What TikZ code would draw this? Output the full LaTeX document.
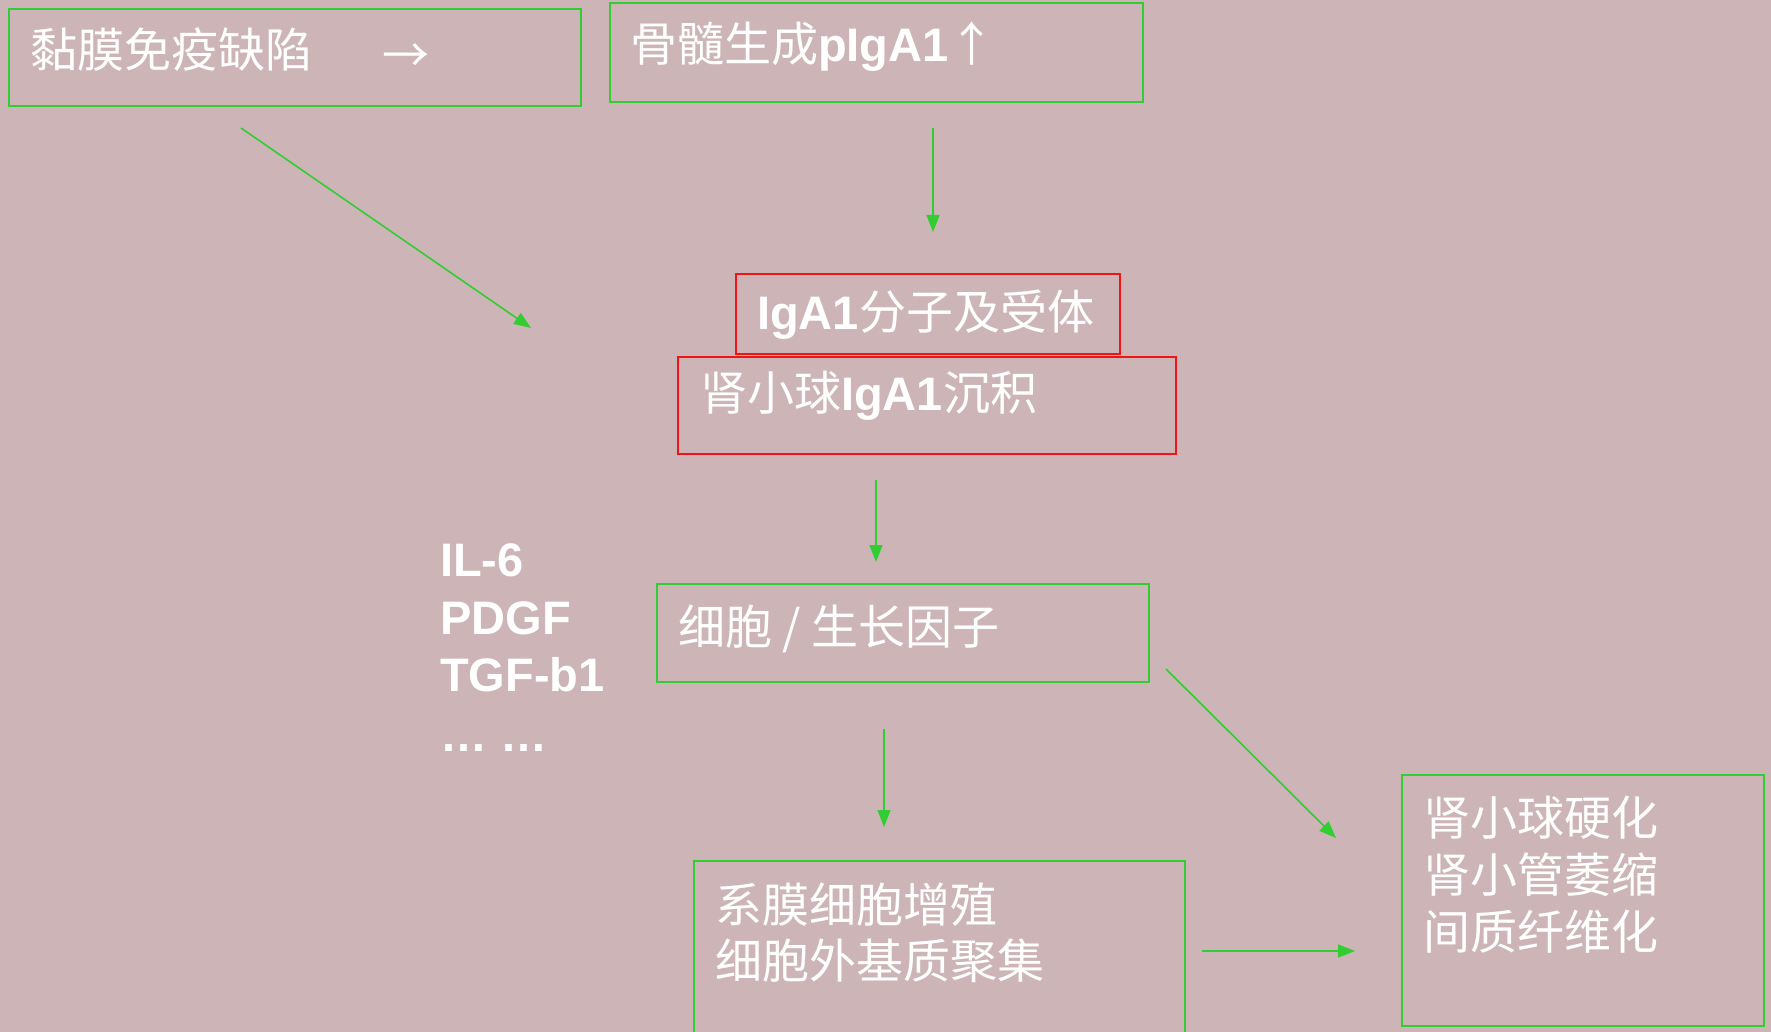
\documentclass[tikz,border=0pt]{standalone}
\usepackage{fontspec}
\setmainfont{Liberation Sans}
\newfontfamily\cjk{Noto Sans CJK SC}
\usetikzlibrary{arrows.meta}
\definecolor{bgpink}{RGB}{205,181,183}
\definecolor{boxgreen}{RGB}{50,205,50}
\definecolor{boxred}{RGB}{240,20,20}
\newcommand\lat[1]{{\rmfamily\bfseries #1}}
\tikzset{
  gbox/.style={draw=boxgreen, line width=2.2pt, rectangle, inner sep=0pt},
  rbox/.style={draw=boxred, line width=2.2pt, rectangle, inner sep=0pt},
  txt/.style={anchor=west, inner sep=0pt, text=white, align=left,
    font=\cjk\fontsize{47}{57}\selectfont},
  ftxt/.style={anchor=west, inner sep=0pt, text=white,
    font=\rmfamily\bfseries\fontsize{47}{57}\selectfont},
  arr/.style={draw=boxgreen, line width=1.6pt, -{Triangle[length=17pt,width=13pt]}}
}
\begin{document}
\begin{tikzpicture}[x=1pt,y=-1pt]
\useasboundingbox (0,0) rectangle (1771,1032);
\clip (0,0) rectangle (1771,1032);
\fill[bgpink] (0,0) rectangle (1771,1032);

% boxes
\node[gbox, minimum width=572pt, minimum height=97pt] (b1) at (295,57.5) {};
\node[gbox, minimum width=533pt, minimum height=99pt] (b2) at (876.5,52.5) {};
\node[rbox, minimum width=384pt, minimum height=80pt] (b3) at (928,314) {};
\node[rbox, minimum width=498pt, minimum height=97pt] (b4) at (927,405.5) {};
\node[gbox, minimum width=492pt, minimum height=98pt] (b5) at (903,633) {};
\node[gbox, minimum width=491pt, minimum height=199pt] (b6) at (939.5,960.5) {};
\node[gbox, minimum width=362pt, minimum height=251pt] (b7) at (1583,900.5) {};

% texts
\node[txt] (t1) at (30,50) {黏膜免疫缺陷\hspace{70pt}\raisebox{-5pt}{→}};
\node[txt] (t2) at (630,47) {骨髓生成\lat{pIgA1}↑};
\node[txt] (t3) at (757,315) {\lat{IgA1}分子及受体};
\node[txt] (t4) at (700,396) {肾小球\lat{IgA1}沉积};
\node[txt] (t5) at (678,629) {细胞 / 生长因子};
\node[txt, font=\cjk\fontsize{47}{56}\selectfont] (t6) at (715,933) {系膜细胞增殖\\细胞外基质聚集};
\node[txt] (t7) at (1423,875) {肾小球硬化\\肾小管萎缩\\间质纤维化};

\node[ftxt] (f1) at (440,560) {IL-6};
\node[ftxt] (f2) at (440,618) {PDGF};
\node[ftxt] (f3) at (440,675) {TGF-b1};
\node[ftxt] (f4) at (440,748) {… …};

% arrow ends
\coordinate (a1s) at (241,128);  \coordinate (a1e) at (531,328);
\coordinate (a2s) at (933,128);  \coordinate (a2e) at (933,232);
\coordinate (a3s) at (876,480);  \coordinate (a3e) at (876,562);
\coordinate (a4s) at (884,729);  \coordinate (a4e) at (884,827);
\coordinate (a5s) at (1166,669); \coordinate (a5e) at (1336,838);
\coordinate (a6s) at (1202,951); \coordinate (a6e) at (1355,951);

\draw[arr] (a1s) -- (a1e);
\draw[arr] (a2s) -- (a2e);
\draw[arr] (a3s) -- (a3e);
\draw[arr] (a4s) -- (a4e);
\draw[arr] (a5s) -- (a5e);
\draw[arr] (a6s) -- (a6e);
\end{tikzpicture}
\end{document}
